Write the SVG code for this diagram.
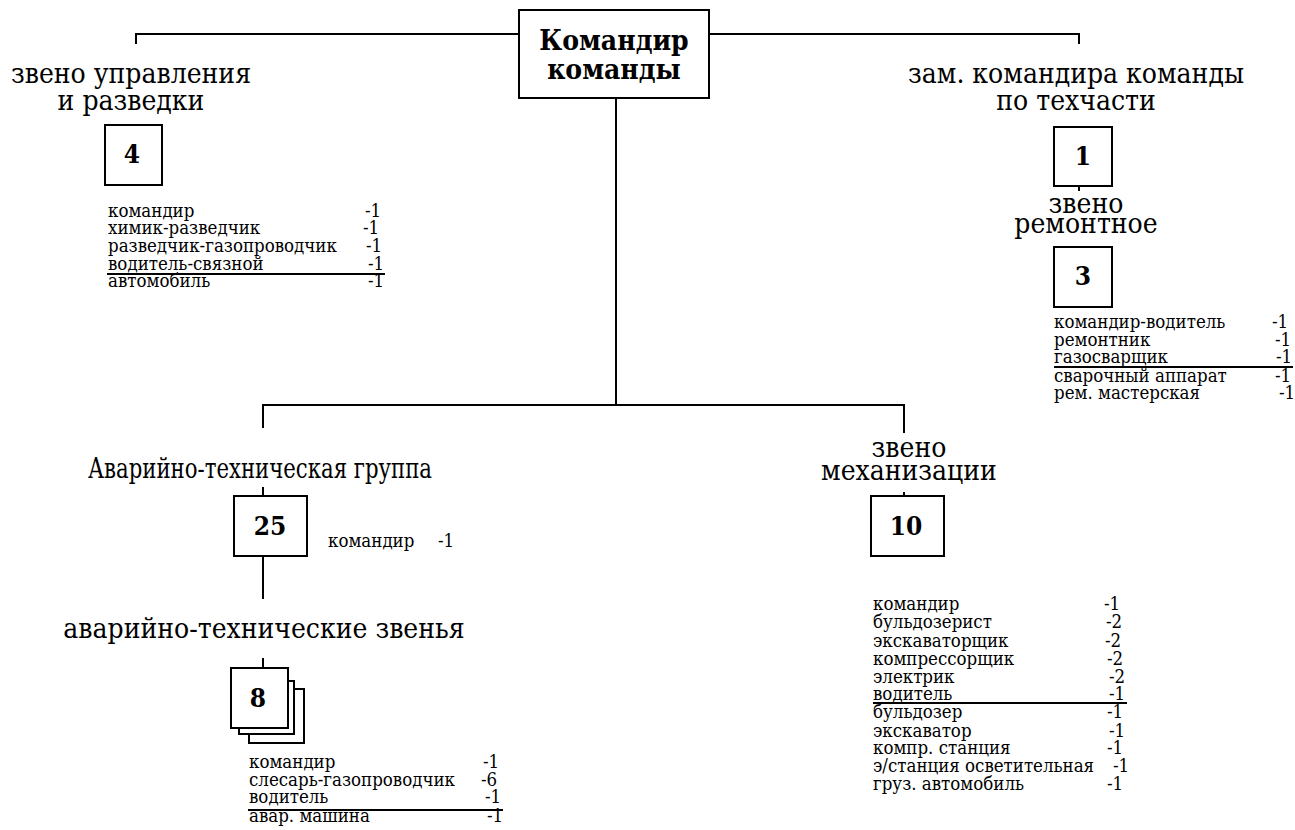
<svg xmlns="http://www.w3.org/2000/svg" width="1295" height="830" viewBox="0 0 1295 830">
<style>
.ln{stroke:#000;stroke-width:2;fill:none}
.box{stroke:#000;stroke-width:2;fill:#fff}
text{font-family:"DejaVu Serif",serif;font-stretch:condensed;fill:#000}
.lbl{font-size:28px;text-anchor:middle}
.num{font-size:26px;font-weight:bold;text-anchor:middle}
.lst{font-size:18.5px}
.ttl{font-size:28px;font-weight:bold;text-anchor:middle}
</style>
<rect width="1295" height="830" fill="#fff"/>
<g id="connectors">
<polyline class="ln" points="136,44 136,34 519,34"/>
<polyline class="ln" points="709,34 1079,34 1079,44"/>
<line class="ln" x1="616" y1="98" x2="616" y2="405"/>
<polyline class="ln" points="263,428 263,405 904,405 904,433"/>
<line class="ln" x1="263" y1="487" x2="263" y2="496"/>
<line class="ln" x1="263" y1="556" x2="263" y2="599"/>
<line class="ln" x1="263" y1="658" x2="263" y2="668"/>
<line class="ln" x1="1079" y1="186" x2="1079" y2="191"/>
<line class="ln" x1="904" y1="492" x2="904" y2="497"/>
</g>
<g id="commander">
<rect class="box" x="519" y="10" width="190" height="88"/>
<text class="ttl" x="614" y="50">Командир</text>
<text class="ttl" x="614" y="79">команды</text>
</g>
<g id="recon">
<text class="lbl" x="131" y="83">звено управления</text>
<text class="lbl" x="131" y="110">и разведки</text>
<rect class="box" x="105" y="125" width="57" height="60"/>
<text class="num" x="132" y="163">4</text>
<g class="lst">
<text x="108" y="217">командир</text><text x="365" y="217">-1</text>
<text x="108" y="234">химик-разведчик</text><text x="363" y="234">-1</text>
<text x="108" y="252">разведчик-газопроводчик</text><text x="366" y="252">-1</text>
<text x="108" y="270">водитель-связной</text><text x="368" y="270">-1</text>
<text x="108" y="287">автомобиль</text><text x="368" y="287">-1</text>
</g>
<line class="ln" x1="107" y1="274" x2="385" y2="274"/>
</g>
<g id="deputy">
<text class="lbl" x="1076" y="83">зам. командира команды</text>
<text class="lbl" x="1076" y="110">по техчасти</text>
<rect class="box" x="1054" y="127" width="58" height="59"/>
<text class="num" x="1083" y="165">1</text>
</g>
<g id="repair">
<text class="lbl" x="1086" y="213">звено</text>
<text class="lbl" x="1086" y="233">ремонтное</text>
<rect class="box" x="1054" y="247" width="58" height="60"/>
<text class="num" x="1083" y="285">3</text>
<g class="lst">
<text x="1054" y="328">командир-водитель</text><text x="1272" y="328">-1</text>
<text x="1054" y="346">ремонтник</text><text x="1275" y="346">-1</text>
<text x="1054" y="363">газосварщик</text><text x="1276" y="363">-1</text>
<text x="1054" y="382">сварочный аппарат</text><text x="1275" y="382">-1</text>
<text x="1054" y="399">рем. мастерская</text><text x="1279" y="399">-1</text>
</g>
<line class="ln" x1="1054" y1="367" x2="1293" y2="367"/>
</g>
<g id="group">
<text class="lbl" x="260" y="478" textLength="344" lengthAdjust="spacingAndGlyphs">Аварийно-техническая группа</text>
<rect class="box" x="234" y="496" width="73" height="60"/>
<text class="num" x="270" y="535">25</text>
<text class="lst" x="328" y="547">командир</text>
<text class="lst" x="438" y="547">-1</text>
</g>
<g id="units">
<text class="lbl" x="264" y="638">аварийно-технические звенья</text>
<rect class="box" x="249" y="689" width="55" height="54"/>
<rect class="box" x="239" y="681" width="55" height="53"/>
<rect class="box" x="231" y="668" width="57" height="60"/>
<text class="num" x="258" y="707">8</text>
<g class="lst">
<text x="249" y="768">командир</text><text x="483" y="768">-1</text>
<text x="249" y="786">слесарь-газопроводчик</text><text x="481" y="786">-6</text>
<text x="249" y="803">водитель</text><text x="485" y="803">-1</text>
<text x="249" y="822">авар. машина</text><text x="487" y="822">-1</text>
</g>
<line class="ln" x1="248" y1="810" x2="503" y2="810"/>
</g>
<g id="mech">
<text class="lbl" x="909" y="457">звено</text>
<text class="lbl" x="909" y="480">механизации</text>
<rect class="box" x="871" y="496" width="73" height="60"/>
<text class="num" x="906" y="535">10</text>
<g class="lst">
<text x="873" y="610">командир</text><text x="1104" y="610">-1</text>
<text x="873" y="628">бульдозерист</text><text x="1106" y="628">-2</text>
<text x="873" y="647">экскаваторщик</text><text x="1105" y="647">-2</text>
<text x="873" y="665">компрессорщик</text><text x="1107" y="665">-2</text>
<text x="873" y="683">электрик</text><text x="1109" y="683">-2</text>
<text x="873" y="700">водитель</text><text x="1109" y="700">-1</text>
<text x="873" y="718">бульдозер</text><text x="1107" y="718">-1</text>
<text x="873" y="737">экскаватор</text><text x="1109" y="737">-1</text>
<text x="873" y="754">компр. станция</text><text x="1107" y="754">-1</text>
<text x="873" y="772">э/станция осветительная</text><text x="1113" y="772">-1</text>
<text x="873" y="790">груз. автомобиль</text><text x="1107" y="790">-1</text>
</g>
<line class="ln" x1="873" y1="703" x2="1127" y2="703"/>
</g>
</svg>
